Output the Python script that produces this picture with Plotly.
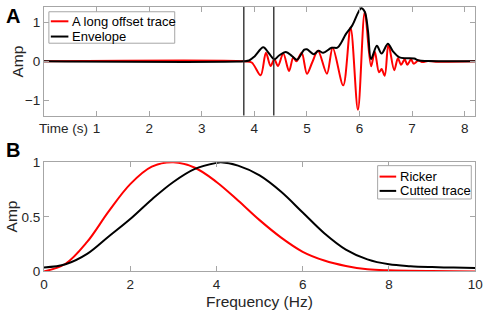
import plotly.graph_objects as go

# ---------------- Panel A: long offset trace and its envelope ----------------
trace_time = [0.0, 3.8, 3.95, 4.12, 4.22, 4.31, 4.38, 4.45, 4.55, 4.66, 4.74, 4.80,
              4.90, 5.00, 5.10, 5.21, 5.38, 5.49, 5.69, 5.83, 5.97, 6.10, 6.22, 6.29,
              6.37, 6.42, 6.48, 6.55, 6.66, 6.73, 6.79, 6.86, 6.91, 6.98, 7.03, 7.12,
              7.20, 7.30, 7.45, 8.2]
trace_amp = [0.0, 0.0, -0.03, -0.36, 0.22, -0.12, 0.05, -0.12, 0.20, -0.25, 0.10, 0.0,
             0.22, -0.32, -0.03, 0.27, -0.32, 0.35, -0.62, 0.87, -1.25, 1.27, -0.13, 0.25,
             -0.28, -0.20, -0.37, 0.44, -0.23, 0.08, -0.09, 0.05, -0.09, 0.05, -0.06, 0.02,
             -0.02, 0.01, -0.01, 0.0]

env_time = [0.0, 3.8, 3.9, 4.0, 4.17, 4.28, 4.38, 4.47, 4.60, 4.72, 4.81, 4.95, 5.00,
            5.13, 5.22, 5.31, 5.47, 5.58, 5.66, 5.74, 5.86, 6.03, 6.10, 6.16, 6.22,
            6.33, 6.42, 6.54, 6.64, 6.76, 6.90, 7.04, 7.13, 7.30, 8.2]
env_amp = [0.0, 0.0, 0.02, 0.12, 0.36, 0.20, 0.05, 0.15, 0.24, 0.13, 0.04, 0.30, 0.31,
           0.18, 0.27, 0.22, 0.35, 0.35, 0.50, 0.70, 0.92, 1.37, 1.28, 0.80, 0.06,
           0.40, 0.20, 0.45, 0.25, 0.10, 0.08, 0.07, 0.02, 0.01, 0.0]

window_times = [3.8, 4.37]
time_ticks = [1, 2, 3, 4, 5, 6, 7, 8]
amp_ticks_a = [-1, 0, 1]

# ---------------- Panel B: amplitude spectra ----------------
freq_ricker = [0.0, 0.5, 1.0, 1.5, 2.0, 2.5, 3.0, 3.5, 4.0, 4.5, 5.0, 5.5, 6.0, 6.5,
               7.0, 7.5, 8.0, 9.0, 10.0]
amp_ricker = [0.0, 0.07, 0.27, 0.55, 0.80, 0.96, 1.0, 0.95, 0.82, 0.65, 0.47, 0.31,
              0.18, 0.10, 0.05, 0.02, 0.01, 0.003, 0.0]

freq_cut = [0.0, 0.5, 1.0, 1.5, 2.0, 2.5, 3.0, 3.5, 4.0, 4.1, 4.5, 5.0, 5.5, 6.0, 6.5,
            7.0, 7.5, 8.0, 8.5, 9.0, 9.5, 10.0]
amp_cut = [0.035, 0.065, 0.16, 0.32, 0.48, 0.66, 0.82, 0.94, 0.995, 1.0, 0.97, 0.88,
           0.73, 0.54, 0.35, 0.20, 0.11, 0.065, 0.048, 0.04, 0.035, 0.032]

freq_ticks = [0, 2, 4, 6, 8, 10]
amp_ticks_b = [0, 0.5, 1]

# ---------------- layout helpers ----------------
W, H = 491, 318
FONT = "Liberation Sans, Arial, Helvetica, sans-serif"
AXC = "#a6a6a6"
TXT = "#262626"


def px(x):
    return x / W


def py(y):
    return 1 - y / H


fig = go.Figure()

fig.add_trace(go.Scatter(x=trace_time, y=trace_amp, mode="lines", name="A long offset trace",
                         line=dict(color="#ff0000", width=2, shape="spline", smoothing=0.9),
                         xaxis="x", yaxis="y", showlegend=False))
fig.add_trace(go.Scatter(x=env_time, y=env_amp, mode="lines", name="Envelope",
                         line=dict(color="#000000", width=2, shape="spline", smoothing=0.9),
                         xaxis="x", yaxis="y", showlegend=False))
fig.add_trace(go.Scatter(x=freq_ricker, y=amp_ricker, mode="lines", name="Ricker",
                         line=dict(color="#ff0000", width=2, shape="spline"),
                         xaxis="x2", yaxis="y2", showlegend=False))
fig.add_trace(go.Scatter(x=freq_cut, y=amp_cut, mode="lines", name="Cutted trace",
                         line=dict(color="#000000", width=2, shape="spline"),
                         xaxis="x2", yaxis="y2", showlegend=False))

axis_common = dict(showline=True, linecolor=AXC, linewidth=1, mirror="ticks",
                   ticks="inside", ticklen=5, tickcolor=AXC, tickwidth=1,
                   tickfont=dict(family=FONT, size=13.5, color=TXT),
                   showgrid=False, zeroline=False, fixedrange=True)

fig.update_layout(
    width=W, height=H,
    margin=dict(l=0, r=0, t=0, b=0),
    paper_bgcolor="white", plot_bgcolor="white",
    xaxis=dict(domain=[px(41), px(483)], range=[0, 8.2], tickvals=time_ticks,
               anchor="y", **axis_common),
    yaxis=dict(domain=[py(114), 1.0], range=[-1.4, 1.4], tickvals=amp_ticks_a,
               anchor="x", **axis_common),
    xaxis2=dict(domain=[px(41), px(483)], range=[0, 10], tickvals=freq_ticks,
                anchor="y2", **axis_common),
    yaxis2=dict(domain=[py(277.5), py(163)], range=[0, 1], tickvals=amp_ticks_b,
                ticktext=["0", "0.5", "1"], anchor="x2", **axis_common),
)

shapes = []
for t in window_times:
    shapes.append(dict(type="line", xref="x", yref="y domain", x0=t, x1=t, y0=0, y1=1,
                       line=dict(color="#222222", width=1.3), layer="above"))

annotations = []


def add_legend(box, rows):
    x0, y0, x1, y1 = box
    shapes.append(dict(type="rect", xref="paper", yref="paper",
                       x0=px(x0), x1=px(x1), y0=py(y1), y1=py(y0),
                       line=dict(color=AXC, width=1), fillcolor="white", layer="above"))
    for (lx0, lx1, ly, color, label) in rows:
        shapes.append(dict(type="line", xref="paper", yref="paper",
                           x0=px(lx0), x1=px(lx1), y0=py(ly), y1=py(ly),
                           line=dict(color=color, width=2), layer="above"))
        annotations.append(dict(text=label, xref="paper", yref="paper",
                                x=px(lx1 + 1.5), y=py(ly), xanchor="left", yanchor="middle",
                                showarrow=False, font=dict(family=FONT, size=13, color="#000")))


add_legend((46, 5, 175, 38), [(48, 66, 15, "#ff0000", "A long offset trace"),
                              (48, 66, 31, "#000000", "Envelope")])
add_legend((383, 166.5, 479, 201.5), [(385, 402, 178, "#ff0000", "Ricker"),
                                      (385, 402, 193, "#000000", "Cutted trace")])

annotations += [
    dict(text="<b>A</b>", xref="paper", yref="paper", x=px(0), y=py(9), xanchor="left",
         yanchor="middle", showarrow=False, font=dict(family=FONT, size=20, color="#000")),
    dict(text="<b>B</b>", xref="paper", yref="paper", x=px(0), y=py(150), xanchor="left",
         yanchor="middle", showarrow=False, font=dict(family=FONT, size=20, color="#000")),
    dict(text="Time (s)", xref="paper", yref="paper", x=px(88), y=py(127), xanchor="right",
         yanchor="middle", showarrow=False, font=dict(family=FONT, size=13.5, color=TXT)),
    dict(text="Amp", xref="paper", yref="paper", x=px(13.5), y=py(57), textangle=-90,
         xanchor="center", yanchor="middle", showarrow=False,
         font=dict(family=FONT, size=15.5, color=TXT)),
    dict(text="Amp", xref="paper", yref="paper", x=px(8), y=py(220), textangle=-90,
         xanchor="center", yanchor="middle", showarrow=False,
         font=dict(family=FONT, size=15.5, color=TXT)),
    dict(text="Frequency (Hz)", xref="paper", yref="paper", x=px(262), y=py(309),
         xanchor="center", yanchor="middle", showarrow=False,
         font=dict(family=FONT, size=15.5, color=TXT)),
]

fig.update_layout(shapes=shapes, annotations=annotations)

reset_css = (
    "var s=document.createElement('style');"
    "s.textContent='html,body{margin:0!important;padding:0!important;overflow:hidden!important;}';"
    "document.head.appendChild(s);"
)

fig.write_html("out.html", config={"displayModeBar": False, "staticPlot": True},
               post_script=reset_css)
